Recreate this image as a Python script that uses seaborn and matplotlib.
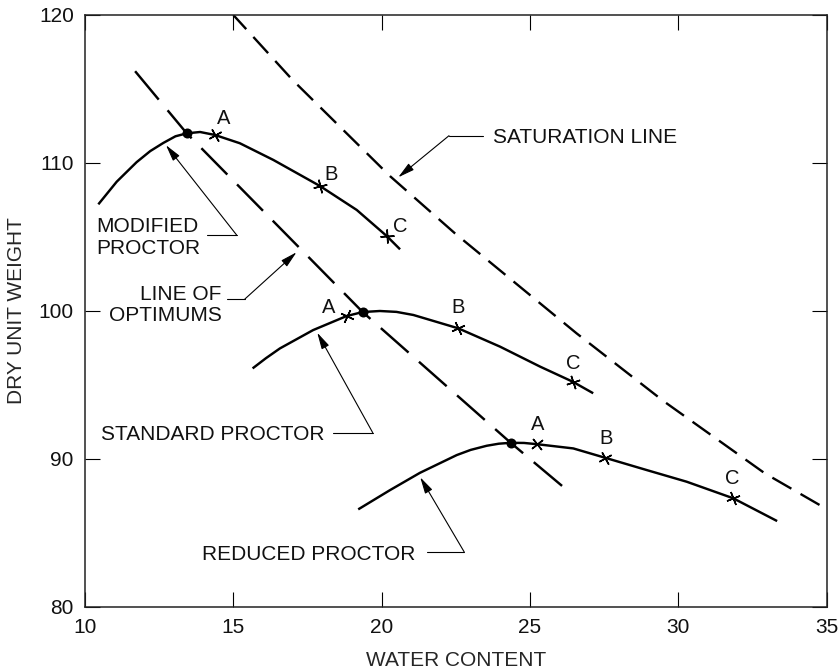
import numpy as np
import pandas as pd
import matplotlib
matplotlib.use("Agg")
import matplotlib.pyplot as plt
import seaborn as sns

# ---------------- data ----------------
mod_x = [10.45, 11.07, 11.74, 12.20, 12.64, 13.05, 13.43, 13.88, 14.38, 15.22, 16.35, 17.92, 19.16, 20.17, 20.62]
mod_y = [107.20, 108.73, 110.05, 110.80, 111.35, 111.80, 112.00, 112.09, 111.89, 111.33, 110.20, 108.44, 106.82, 105.06, 104.16]

std_x = [15.65, 16.10, 16.57, 17.69, 18.82, 19.36, 19.94, 20.50, 21.07, 22.58, 23.99, 25.34, 26.44, 27.13]
std_y = [96.11, 96.80, 97.46, 98.70, 99.65, 99.92, 99.99, 99.93, 99.72, 98.82, 97.58, 96.23, 95.21, 94.43]

red_x = [19.21, 20.28, 21.29, 22.53, 23.00, 23.54, 23.95, 24.35, 24.80, 25.22, 26.46, 27.53, 28.93, 30.28, 31.85, 33.33]
red_y = [86.58, 87.88, 89.05, 90.25, 90.60, 90.88, 91.02, 91.08, 91.07, 90.99, 90.70, 90.07, 89.24, 88.45, 87.33, 85.79]

sat_x = [15.0, 17.0, 20.28, 22.47, 26.57, 29.5, 32.92, 35.0]
sat_y = [120.0, 115.6, 109.11, 105.24, 98.48, 93.9, 89.01, 86.6]

opt_x = [11.69, 13.43, 19.36, 24.35, 26.12]
opt_y = [116.2, 112.0, 99.92, 91.08, 88.1]

# optimum points (filled dots)
optpt_x = [13.43, 19.36, 24.35]
optpt_y = [112.0, 99.92, 91.08]

# test points A, B, C on each curve
pt_labels = ["A", "B", "C"]
mod_pts_x = [14.38, 17.92, 20.17]
mod_pts_y = [111.89, 108.44, 105.06]
std_pts_x = [18.82, 22.58, 26.44]
std_pts_y = [99.65, 98.82, 95.21]
red_pts_x = [25.22, 27.53, 31.85]
red_pts_y = [90.99, 90.07, 87.33]

x_ticks = [10, 15, 20, 25, 30, 35]
y_ticks = [80, 90, 100, 110, 120]

# ---------------- style ----------------
sns.set_theme(style="white")
plt.rcParams["font.family"] = ["Liberation Sans", "DejaVu Sans"]
plt.rcParams["lines.scale_dashes"] = False
plt.rcParams["text.color"] = "#111111"

fig = plt.figure(figsize=(8.38, 6.69), dpi=100)
ax = fig.add_axes([0.1014, 0.0931, 0.9865 - 0.1014, 0.9776 - 0.0931])
ax.set_xlim(10, 35)
ax.set_ylim(80, 120)

LW = 1.75
curves = [
    ("Modified", mod_x, mod_y),
    ("Standard", std_x, std_y),
    ("Reduced", red_x, red_y),
]
for name, xs, ys in curves:
    df = pd.DataFrame({"w": xs, "g": ys})
    sns.lineplot(data=df, x="w", y="g", sort=False, estimator=None, ax=ax,
                 color="black", lw=LW, solid_capstyle="butt", solid_joinstyle="round", zorder=3)

sdf = pd.DataFrame({"w": sat_x, "g": sat_y})
sns.lineplot(data=sdf, x="w", y="g", sort=False, estimator=None, ax=ax,
             color="black", lw=1.7, linestyle=(2, (15.8, 7.6)), dash_capstyle="butt", zorder=2)
odf = pd.DataFrame({"w": opt_x, "g": opt_y})
sns.lineplot(data=odf, x="w", y="g", sort=False, estimator=None, ax=ax,
             color="black", lw=1.75, linestyle=(0, (26.6, 10.0)), dash_capstyle="butt", zorder=2)

pdf = pd.DataFrame({"w": optpt_x, "g": optpt_y})
sns.scatterplot(data=pdf, x="w", y="g", ax=ax, color="black", s=52, edgecolor="black",
                linewidth=0, zorder=5)

# crosses oriented at 45 deg to the curve tangent
fig.canvas.draw()
def tangent_angle(cx, cy, xs, ys):
    pts = ax.transData.transform(np.column_stack([xs, ys]))
    c = ax.transData.transform([[cx, cy]])[0]
    i = int(np.argmin(np.hypot(pts[:, 0] - c[0], pts[:, 1] - c[1])))
    a = pts[max(i - 1, 0)]
    b = pts[min(i + 1, len(pts) - 1)]
    return np.degrees(np.arctan2(b[1] - a[1], b[0] - a[0]))

for (name, xs, ys), px, py in zip(curves, [mod_pts_x, std_pts_x, red_pts_x],
                                  [mod_pts_y, std_pts_y, red_pts_y]):
    for cx, cy in zip(px, py):
        ang = tangent_angle(cx, cy, xs, ys) + 45
        ax.plot([cx], [cy], linestyle="none", marker=(4, 2, ang), markersize=10,
                markeredgewidth=1.1, color="black", zorder=6)

# A/B/C letters
FS = 15
letter_pos = [
    [(14.66, 113.17), (18.29, 109.36), (20.62, 105.87)],
    [(18.20, 100.39), (22.56, 100.39), (26.46, 96.56)],
    [(25.26, 92.44), (27.55, 91.53), (31.82, 88.78)],
]
for row in letter_pos:
    for lab, (tx, ty) in zip(pt_labels, row):
        ax.text(tx, ty, lab, ha="center", va="center_baseline", fontsize=14.5)

# callouts: text, text position, alignment, leader (start, knee), arrow tip
arrow_kw = dict(arrowstyle="-|>,head_length=1.0,head_width=0.25", color="black",
                lw=0.8, mutation_scale=10, shrinkA=0, shrinkB=0)
callouts = [
    ("SATURATION LINE", (23.74, 112.38), "left", (23.42, 111.84), (22.27, 111.84), (20.56, 109.03)),
    ("MODIFIED\nPROCTOR", (10.39, 106.32), "left", (14.12, 105.13), (15.11, 105.13), (12.73, 111.2)),
    ("LINE OF\nOPTIMUMS", (14.61, 101.74), "right", (14.78, 100.80), (15.39, 100.80), (17.13, 103.96)),
    ("STANDARD PROCTOR", (10.54, 92.28), "left", (18.37, 91.76), (19.70, 91.76), (17.83, 98.52)),
    ("REDUCED PROCTOR", (13.93, 84.17), "left", (21.52, 83.71), (22.78, 83.71), (21.30, 88.75)),
]
for text, (tx, ty), ha, start, knee, tip in callouts:
    ax.text(tx, ty, text, ha=ha, va="top", multialignment=ha, fontsize=FS, linespacing=1.15)
    ax.plot([start[0], knee[0]], [start[1], knee[1]], color="black", lw=0.8)
    ax.annotate("", xy=tip, xytext=knee, arrowprops=arrow_kw)

# axes
ax.set_xticks(x_ticks)
ax.set_yticks(y_ticks)
ax.set_xticklabels([str(v) for v in x_ticks])
ax.set_yticklabels([str(v) for v in y_ticks])
ax.tick_params(axis="both", which="both", direction="in", length=10.8, width=0.8,
               color="black", top=True, right=True, bottom=True, left=True,
               labelsize=FS, pad=8, labelcolor="#111111")
for s in ax.spines.values():
    s.set_visible(True)
    s.set_color("#222222")
    s.set_linewidth(1.1)
ax.set_xlabel("WATER CONTENT", fontsize=FS, labelpad=10)
ax.set_ylabel("DRY UNIT WEIGHT", fontsize=FS, labelpad=9)
ax.grid(False)

fig.savefig("out.png", dpi=100)
